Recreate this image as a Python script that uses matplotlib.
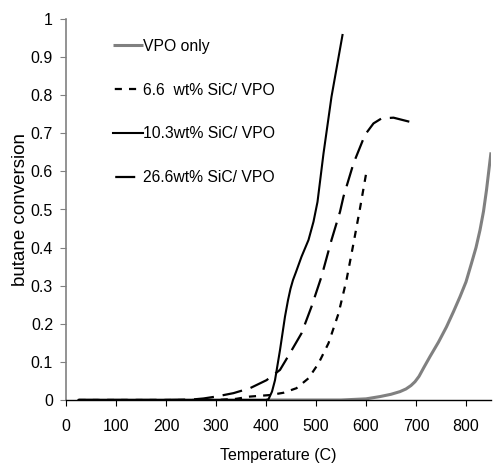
import matplotlib
matplotlib.use("Agg")
import matplotlib.pyplot as plt

plt.rcParams['font.family'] = ['Liberation Sans', 'DejaVu Sans']

# Data
t_vpo = [25, 100, 200, 300, 400, 500, 550, 600, 628, 650, 668, 680, 690, 698, 706, 716, 728, 745, 761, 775, 788, 800, 811, 820, 828, 835, 841, 850]
c_vpo = [0, 0, 0, 0, 0, 0, 0, 0.003, 0.009, 0.015, 0.022, 0.029, 0.038, 0.048, 0.062, 0.086, 0.114, 0.152, 0.192, 0.232, 0.271, 0.31, 0.359, 0.40, 0.446, 0.495, 0.551, 0.65]

t_66 = [25, 100, 200, 300, 340, 368, 408, 435, 461, 485, 505, 525, 545, 561, 575, 588, 601]
c_66 = [0, 0, 0, 0, 0.003, 0.009, 0.013, 0.019, 0.031, 0.057, 0.096, 0.149, 0.227, 0.315, 0.411, 0.503, 0.60]

t_103 = [25, 100, 200, 300, 400, 405, 412, 418, 428, 438, 444, 449, 454, 460, 471, 485, 495, 503, 515, 531, 553]
c_103 = [0, 0, 0, 0, 0, 0.002, 0.022, 0.052, 0.131, 0.219, 0.262, 0.292, 0.315, 0.336, 0.376, 0.42, 0.468, 0.52, 0.647, 0.796, 0.958]

t_266 = [25, 100, 200, 250, 275, 300, 335, 368, 401, 428, 448, 471, 491, 511, 531, 548, 555, 575, 598, 615, 631, 655, 688]
c_266 = [0, 0, 0, 0.001, 0.004, 0.009, 0.018, 0.031, 0.052, 0.079, 0.123, 0.175, 0.245, 0.324, 0.42, 0.494, 0.534, 0.621, 0.696, 0.726, 0.739, 0.741, 0.73]

labels = ["VPO only", "6.6  wt% SiC/ VPO", "10.3wt% SiC/ VPO", "26.6wt% SiC/ VPO"]
xticks = [0, 100, 200, 300, 400, 500, 600, 700, 800]
yticks = [0, 0.1, 0.2, 0.3, 0.4, 0.5, 0.6, 0.7, 0.8, 0.9, 1]
yticklabels = ["0", "0.1", "0.2", "0.3", "0.4", "0.5", "0.6", "0.7", "0.8", "0.9", "1"]

fig = plt.figure(figsize=(4.93, 4.65), dpi=100)
ax = fig.add_axes([66/493, 1-400/465, (491-66)/493, (400-19)/465])

ax.plot(t_vpo, c_vpo, color='#808080', lw=2.2, label=labels[0], solid_capstyle='butt')
ax.plot(t_66, c_66, color='black', lw=1.6, dashes=(3.2, 3.2), label=labels[1])
ax.plot(t_103, c_103, color='black', lw=1.5, label=labels[2])
ax.plot(t_266, c_266, color='black', lw=1.6, dashes=(9, 4), label=labels[3])

ax.set_xlim(0, 850)
ax.set_ylim(0, 1)
ax.set_xticks(xticks)
ax.set_yticks(yticks)
ax.set_yticklabels(yticklabels)

for s in ['top', 'right']:
    ax.spines[s].set_visible(False)
ax.spines['left'].set_color('#808080')
ax.spines['left'].set_linewidth(1.2)
ax.spines['bottom'].set_color('black')
ax.spines['bottom'].set_linewidth(1.0)
ax.tick_params(axis='y', direction='out', length=4.3, color='#808080', labelsize=11.5, pad=5)
ax.tick_params(axis='x', direction='out', length=4, color='black', labelsize=11.5, pad=9.5)

ax.set_xlabel("Temperature (C)", fontsize=11.5, labelpad=10)
ax.set_ylabel("butane conversion", fontsize=13.5, labelpad=1.5)

leg = ax.legend(loc='upper left', bbox_to_anchor=(0.078, 0.985), frameon=False,
                fontsize=11.3, handlelength=1.9, handletextpad=0.0, labelspacing=1.83)
leg_lines = leg.get_lines()
leg_lines[1].set_linestyle((5.6, (3.2, 3.2)))
leg_lines[3].set_linestyle((12, (9, 4)))

fig.savefig("out.png", dpi=100)
